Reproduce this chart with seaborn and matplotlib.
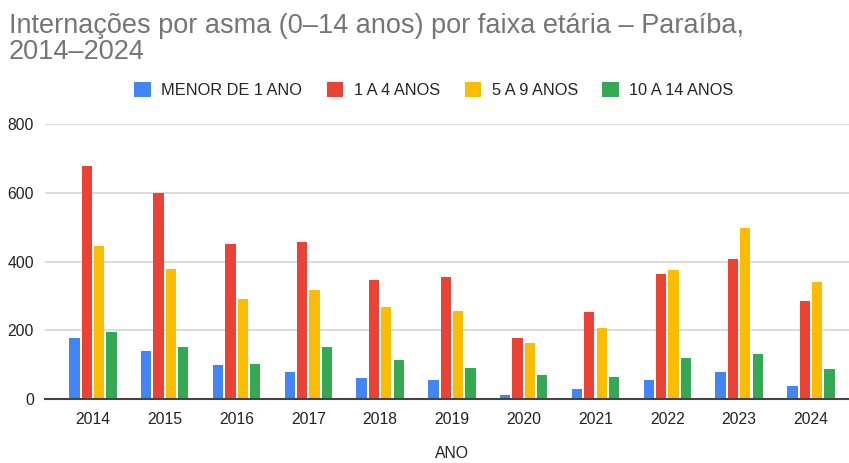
import pandas as pd
import matplotlib.pyplot as plt
import seaborn as sns

# values
anos = ['2014', '2015', '2016', '2017', '2018', '2019', '2020', '2021', '2022', '2023', '2024']
menor_1 = [178, 139, 99, 79, 60, 54, 12, 28, 54, 79, 39]
de_1_a_4 = [679, 600, 450, 458, 347, 356, 177, 253, 364, 407, 284]
de_5_a_9 = [446, 379, 292, 316, 268, 257, 162, 206, 375, 498, 339]
de_10_a_14 = [194, 150, 103, 150, 114, 91, 71, 63, 118, 130, 86]

faixas = ['MENOR DE 1 ANO', '1 A 4 ANOS', '5 A 9 ANOS', '10 A 14 ANOS']
cores = ['#4285F4', '#EA4335', '#FBBC04', '#34A853']

df = pd.DataFrame({'ANO': anos, faixas[0]: menor_1, faixas[1]: de_1_a_4,
                   faixas[2]: de_5_a_9, faixas[3]: de_10_a_14})
df = df.melt(id_vars='ANO', var_name='faixa', value_name='internacoes')

sns.set_style('white')
plt.rcParams['font.family'] = ['Liberation Sans', 'DejaVu Sans']

fig = plt.figure(figsize=(8.49, 4.63), dpi=100)
ax = fig.add_axes([45 / 849, 64 / 463, 804 / 849, 275 / 463])

sns.barplot(data=df, x='ANO', y='internacoes', hue='faixa', hue_order=faixas,
            palette=cores, width=0.69, gap=0.17, ax=ax, saturation=1, linewidth=0)

ax.set_ylim(0, 800)
ax.set_xlim(-0.668, 10.53)
ax.set_yticks([0, 200, 400, 600, 800])
ax.yaxis.grid(True, color='#d9d9d9', linewidth=1.3)
ax.set_axisbelow(True)
for s in ['top', 'right', 'left']:
    ax.spines[s].set_visible(False)
ax.spines['bottom'].set_color('#444444')
ax.spines['bottom'].set_linewidth(1.5)
ax.tick_params(axis='both', length=0, labelsize=11.3, colors='#222222')
ax.tick_params(axis='x', pad=9)
ax.tick_params(axis='y', pad=8)
ax.set_ylabel('')
ax.set_xlabel('ANO', fontsize=11.3, color='#222222')
ax.xaxis.set_label_coords((452 - 45) / 804, -47 / 275)

fig.text(9 / 849, 1 - 13 / 463, 'Internações por asma (0–14 anos) por faixa etária – Paraíba,\n2014–2024',
         fontsize=19.5, color='#757575', va='top', ha='left', linespacing=1.0)

ax.legend(loc='center', bbox_to_anchor=(434 / 849, 1 - 90 / 463), bbox_transform=fig.transFigure,
          ncol=4, frameon=False, fontsize=11.8, handlelength=1.0, handleheight=1.0,
          handletextpad=0.65, columnspacing=1.5, title=None)

plt.savefig('out.png', dpi=100)
